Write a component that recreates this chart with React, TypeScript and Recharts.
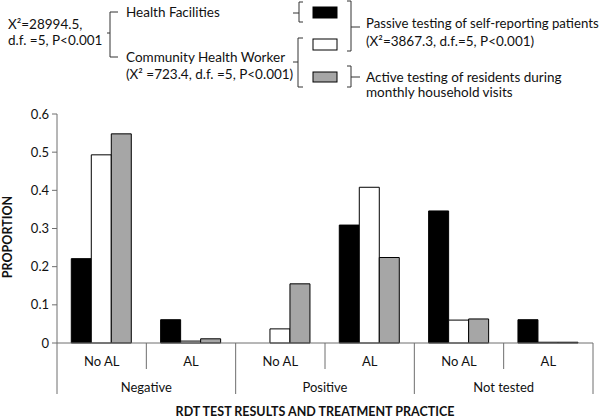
import React from 'react';
import { BarChart, Bar, XAxis, YAxis } from 'recharts';

// sub-category (treatment) and group (RDT result) for each column
const subLabels = ['No AL', 'AL', 'No AL', 'AL', 'No AL', 'AL'];
const groupLabels = ['Negative', 'Negative', 'Positive', 'Positive', 'Not tested', 'Not tested'];

// proportions per series
const healthFacilities = [0.221, 0.061, 0, 0.309, 0.346, 0.061];
const chwPassive = [0.493, 0.005, 0.037, 0.408, 0.06, 0.002];
const chwActive = [0.548, 0.011, 0.155, 0.224, 0.063, 0.002];

const yTicks = [0, 0.1, 0.2, 0.3, 0.4, 0.5, 0.6];

const data = subLabels.map((sub, i) => ({
  sub,
  group: groupLabels[i],
  hf: healthFacilities[i],
  passive: chwPassive[i],
  active: chwActive[i],
}));

const FONT = 'Lato, "Open Sans", sans-serif';
const LINE = '#6e6e6e';
const COLORS = { hf: '#000000', passive: '#ffffff', active: '#a6a6a6' };

const CategoryTick = (props: any) => {
  const { x, y, payload, index } = props;
  const half = payload.offset || 44.7;
  const groupStart = index % 2 === 0;
  const last = index === data.length - 1;
  return (
    <g>
      <line x1={x - half} y1={y} x2={x - half} y2={y + (groupStart ? 51 : 26)} stroke={LINE} />
      {last && <line x1={x + half} y1={y} x2={x + half} y2={y + 51} stroke={LINE} />}
      <text x={x} y={y + 23} textAnchor="middle" fontSize={13} fill="#111" fontFamily={FONT}>
        {payload.value}
      </text>
      {groupStart && (
        <text x={x + half} y={y + 49} textAnchor="middle" fontSize={13} fill="#111" fontFamily={FONT}>
          {data[index].group}
        </text>
      )}
    </g>
  );
};

const bracket = '#333';

const Header = () => (
  <svg
    width={600}
    height={420}
    style={{ position: 'absolute', left: 0, top: 0, pointerEvents: 'none' }}
  >
    <g fontFamily={FONT} fontSize={13.5} fill="#111">
      <text x={8} y={29}>X²=28994.5,</text>
      <text x={8} y={45}>d.f. =5, P&lt;0.001</text>
      <text x={126} y={17}>Health Facilities</text>
      <text x={126} y={62}>Community Health Worker</text>
      <text x={126} y={79}>(X² =723.4, d.f. =5, P&lt;0.001)</text>
      <text x={366} y={28} fontSize={13.2}>Passive testing of self-reporting patients</text>
      <text x={366} y={46}>(X²=3867.3, d.f.=5, P&lt;0.001)</text>
      <text x={366} y={82}>Active testing of residents during</text>
      <text x={366} y={97}>monthly household visits</text>
    </g>
    <g fill="none" stroke={bracket} strokeWidth={1}>
      <path d="M118,12 H110 V57 H118 M107,33 H110" />
      <path d="M303,2 H299 V22 H303 M293,13 H299" />
      <path d="M303,38 H298 V87 H303 M293,62 H298" />
      <path d="M347,1 H351 V51 H347 M351,27 H360" />
      <path d="M347,66 H351 V87 H347 M351,77 H360" />
    </g>
    <rect x={313} y={7} width={24} height={11} fill={COLORS.hf} stroke="#000" />
    <rect x={313} y={39} width={24} height={11} fill={COLORS.passive} stroke="#000" />
    <rect x={313} y={72} width={24} height={10} fill={COLORS.active} stroke="#000" />
    <text
      x={12}
      y={237}
      transform="rotate(-90 12 237)"
      textAnchor="middle"
      fontFamily={FONT}
      fontWeight="bold"
      fontSize={12.5}
      fill="#111"
    >
      PROPORTION
    </text>
    <text x={315} y={416} textAnchor="middle" fontFamily={FONT} fontWeight="bold" fontSize={12.5} fill="#111">
      RDT TEST RESULTS AND TREATMENT PRACTICE
    </text>
  </svg>
);

export default function App() {
  return (
    <div style={{ position: 'absolute', left: 0, top: 0, width: 600, height: 420, background: '#fff' }}>
      <BarChart
        width={600}
        height={420}
        data={data}
        margin={{ top: 114, right: 7, bottom: 0, left: 0 }}
        barCategoryGap="16%"
        barGap={0}
      >
        <XAxis
          xAxisId="main"
          dataKey="sub"
          interval={0}
          height={77}
          tickSize={0}
          tickMargin={0}
          axisLine={{ stroke: LINE }}
          tick={<CategoryTick />}
        />
        <XAxis xAxisId="top" dataKey="sub" orientation="top" height={0} tick={false} tickLine={false} axisLine={{ stroke: '#8a8a8a' }} />
        <YAxis
          yAxisId="left"
          width={57}
          domain={[0, 0.6]}
          ticks={yTicks}
          interval={0}
          tickSize={5}
          tickMargin={3}
          tickFormatter={(v) => (v === 0 ? '0' : String(v))}
          axisLine={{ stroke: LINE }}
          tickLine={{ stroke: LINE }}
          tick={{ fontSize: 13, fill: '#111', fontFamily: FONT }}
        />
        <YAxis yAxisId="right" orientation="right" width={0} domain={[0, 0.6]} tick={false} tickLine={false} axisLine={{ stroke: '#8a8a8a' }} />
        <Bar xAxisId="main" yAxisId="left" dataKey="hf" fill={COLORS.hf} stroke="#000" isAnimationActive={false} />
        <Bar xAxisId="main" yAxisId="left" dataKey="passive" fill={COLORS.passive} stroke="#000" isAnimationActive={false} />
        <Bar xAxisId="main" yAxisId="left" dataKey="active" fill={COLORS.active} stroke="#000" isAnimationActive={false} />
      </BarChart>
      <Header />
    </div>
  );
}
